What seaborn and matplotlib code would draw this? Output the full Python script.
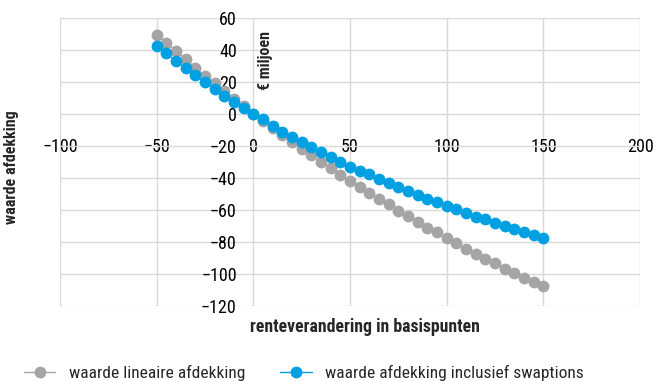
import numpy as np
import pandas as pd
import matplotlib
matplotlib.use("Agg")
import matplotlib.pyplot as plt
import seaborn as sns

# renteverandering (bp)
bp = list(range(-50, 155, 5))

lineair = [49.5, 44.7, 39.5, 34.3, 29.0, 24.0, 19.2, 14.4, 9.5, 4.8, 0.0,
           -4.2, -9.0, -13.2, -17.8, -22.0, -25.7, -29.9, -34.0, -38.2, -42.2,
           -45.6, -49.3, -53.0, -56.6, -60.6, -64.1, -67.5, -71.3, -74.2, -77.8,
           -81.1, -84.6, -87.8, -90.9, -93.6, -96.8, -99.9, -102.6, -105.5, -107.8]

swaptions = [42.8, 38.0, 33.4, 28.6, 24.5, 19.9, 15.7, 11.3, 7.5, 3.6, 0.0,
             -3.1, -7.3, -11.5, -14.2, -17.8, -20.5, -24.0, -27.2, -29.9, -33.0,
             -35.5, -37.8, -41.0, -43.0, -46.0, -48.3, -50.8, -53.3, -55.4, -57.8,
             -59.8, -62.3, -64.4, -66.0, -68.1, -70.2, -72.1, -73.8, -75.9, -77.6]

x_ticks = [-100, -50, 0, 50, 100, 150, 200]
y_ticks = [60, 40, 20, 0, -20, -40, -60, -80, -100, -120]

GRAY = "#a5a5a5"
BLUE = "#00a0e3"

sns.set_style("white")
plt.rcParams["font.family"] = ["Roboto Condensed", "Liberation Sans Narrow",
                               "Liberation Sans", "DejaVu Sans"]

df = pd.DataFrame({"bp": bp, "lineair": lineair, "swaptions": swaptions})

fig = plt.figure(figsize=(6.57, 3.81), dpi=100)
ax = fig.add_axes([0.0913, 0.198, 0.883, 0.754])

sns.lineplot(data=df, x="bp", y="lineair", ax=ax, color=GRAY, marker="o",
             markersize=8.5, markeredgewidth=0, linewidth=1,
             label="waarde lineaire afdekking", legend=False)
sns.lineplot(data=df, x="bp", y="swaptions", ax=ax, color=BLUE, marker="o",
             markersize=8.5, markeredgewidth=0, linewidth=1,
             label="waarde afdekking inclusief swaptions", legend=False)

ax.set_xlim(-100, 200)
ax.set_ylim(-120, 60)
ax.set_xticks(x_ticks)
ax.set_yticks(y_ticks)
ax.grid(True, color="#d9d9d9", linewidth=1)
for i in (0, -1):
    ax.get_xgridlines()[i].set_visible(False)

for s in ["top", "right", "left", "bottom"]:
    ax.spines[s].set_visible(False)
ax.spines["left"].set_position(("data", 0))
ax.spines["bottom"].set_position(("data", 0))
ax.tick_params(axis="both", length=0, labelsize=13, colors="black")
ax.tick_params(axis="x", pad=17)
ax.tick_params(axis="y", pad=12)
ax.set_xlabel("")
ax.set_ylabel("")

fig.text(0.017, 0.562, "waarde afdekking", rotation=90, ha="center", va="center",
         fontsize=11.5, fontweight="bold")
fig.text(0.404, 0.84, "€ miljoen", rotation=90, ha="center", va="center",
         fontsize=11.5, fontweight="bold")
fig.text(0.556, 0.142, "renteverandering in basispunten", ha="center", va="center",
         fontsize=12.8, fontweight="bold")

handles, labels = ax.get_legend_handles_labels()
fig.legend(handles, labels, loc="center left", bbox_to_anchor=(0.026, 0.022),
           ncol=2, frameon=False, fontsize=12.5, handlelength=1.8,
           columnspacing=2.0, handletextpad=0.8, borderaxespad=0)

fig.savefig("out.png", dpi=100)
